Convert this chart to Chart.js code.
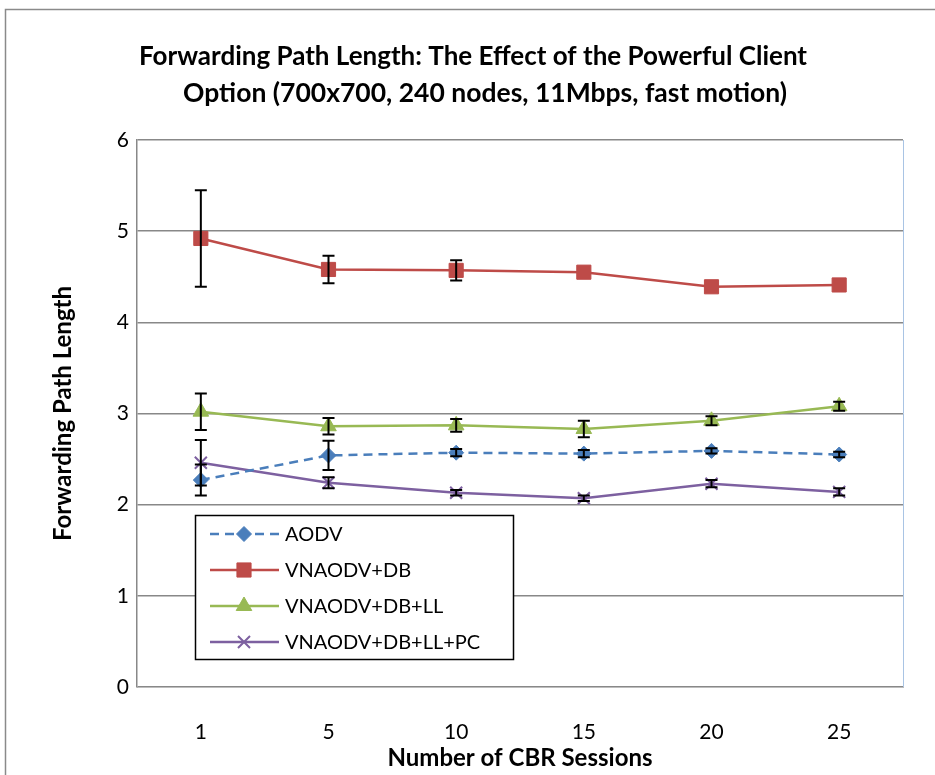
<!DOCTYPE html>
<html>
<head>
<meta charset="utf-8">
<script src="https://cdn.jsdelivr.net/npm/chart.js@4/dist/chart.umd.min.js"></script>
<style>
  html, body { margin: 0; padding: 0; background: #fff; }
  #wrap { width: 935px; height: 775px; position: relative; }
</style>
</head>
<body>
<div id="wrap"><canvas id="c" width="935" height="775"></canvas></div>
<script>
// Number of CBR sessions
const sessions = ['1', '5', '10', '15', '20', '25'];

// Mean forwarding path length per protocol variant
const aodv       = [2.27, 2.54, 2.57, 2.56, 2.59, 2.55];
const vnDb       = [4.92, 4.58, 4.57, 4.55, 4.39, 4.41];
const vnDbLl     = [3.02, 2.86, 2.87, 2.83, 2.92, 3.08];
const vnDbLlPc   = [2.46, 2.24, 2.13, 2.07, 2.23, 2.14];

// Half-width of the confidence interval at each point (0 = hidden by the marker)
const aodvErr     = [0.17, 0.16, 0.04, 0.04, 0.03, 0.03];
const vnDbErr     = [0.53, 0.15, 0.11, 0, 0, 0];
const vnDbLlErr   = [0.20, 0.09, 0.07, 0.09, 0.05, 0.05];
const vnDbLlPcErr = [0.25, 0.06, 0.03, 0.03, 0.04, 0.04];

const yTicks = [0, 1, 2, 3, 4, 5, 6];

const titleLines = [
  'Forwarding Path Length: The Effect of the Powerful Client',
  'Option (700x700, 240 nodes, 11Mbps, fast motion)'
];

const FONT = 'Lato, "Open Sans", "DejaVu Sans", sans-serif';

const series = [
  { label: 'AODV', data: aodv, err: aodvErr, color: '#4a7ebb', style: 'rectRot', radius: 7.5, dash: [9, 6] },
  { label: 'VNAODV+DB', data: vnDb, err: vnDbErr, color: '#be4b48', style: 'rect', radius: 10, dash: [] },
  { label: 'VNAODV+DB+LL', data: vnDbLl, err: vnDbLlErr, color: '#98b954', style: 'triangle', radius: 9, dash: [] },
  { label: 'VNAODV+DB+LL+PC', data: vnDbLlPc, err: vnDbLlPcErr, color: '#7d60a0', style: 'crossRot', radius: 8.5, dash: [] }
];

// Outer frame, chart title and right plot edge
const framePlugin = {
  id: 'frame',
  beforeDraw(chart) {
    const ctx = chart.ctx;
    ctx.save();
    ctx.fillStyle = '#fff';
    ctx.fillRect(0, 0, chart.width, chart.height);
    ctx.strokeStyle = '#8a8a8a';
    ctx.lineWidth = 1.5;
    ctx.strokeRect(5.5, 9.5, chart.width + 10, chart.height + 10);
    ctx.restore();
  },
  afterDraw(chart) {
    const ctx = chart.ctx;
    const a = chart.chartArea;
    ctx.save();
    ctx.strokeStyle = '#a9c4e4';
    ctx.lineWidth = 1;
    ctx.beginPath();
    ctx.moveTo(a.right + 0.5, a.top);
    ctx.lineTo(a.right + 0.5, a.bottom);
    ctx.stroke();
    ctx.fillStyle = '#000';
    ctx.font = 'bold 26px ' + FONT;
    ctx.textAlign = 'center';
    ctx.textBaseline = 'middle';
    ctx.fillText(titleLines[0], 473, 57);
    ctx.font = 'bold 26.5px ' + FONT;
    ctx.fillText(titleLines[1], 485, 93);
    ctx.restore();
  }
};

// Vertical error bars with caps, read through the chart's own scales
const errorBarPlugin = {
  id: 'errorBars',
  afterDatasetsDraw(chart) {
    const ctx = chart.ctx;
    const ys = chart.scales.y;
    ctx.save();
    ctx.strokeStyle = '#000';
    ctx.lineWidth = 2;
    chart.data.datasets.forEach((ds, di) => {
      const meta = chart.getDatasetMeta(di);
      meta.data.forEach((pt, i) => {
        const e = ds.errors[i];
        if (!e) return;
        const yTop = ys.getPixelForValue(ds.data[i] + e);
        const yBot = ys.getPixelForValue(ds.data[i] - e);
        const x = pt.x;
        ctx.beginPath();
        ctx.moveTo(x, yTop); ctx.lineTo(x, yBot);
        ctx.moveTo(x - 6, yTop); ctx.lineTo(x + 6, yTop);
        ctx.moveTo(x - 6, yBot); ctx.lineTo(x + 6, yBot);
        ctx.stroke();
      });
    });
    ctx.restore();
  }
};

// Boxed legend sitting inside the plot area
const boxLegendPlugin = {
  id: 'boxLegend',
  afterDraw(chart) {
    const ctx = chart.ctx;
    const left = 195, top = 515, width = 318, height = 144;
    ctx.save();
    ctx.fillStyle = '#fff';
    ctx.fillRect(left, top, width, height);
    ctx.strokeStyle = '#000';
    ctx.lineWidth = 1.5;
    ctx.strokeRect(left + 0.5, top + 0.5, width, height);
    ctx.font = '20px ' + FONT;
    ctx.textBaseline = 'middle';
    ctx.textAlign = 'left';
    chart.data.datasets.forEach((ds, i) => {
      const y = top + 19 + i * 36;
      ctx.strokeStyle = ds.borderColor;
      ctx.lineWidth = 2.5;
      ctx.setLineDash(ds.borderDash || []);
      ctx.beginPath();
      ctx.moveTo(left + 15, y); ctx.lineTo(left + 84, y);
      ctx.stroke();
      ctx.setLineDash([]);
      ctx.fillStyle = ds.borderColor;
      ctx.lineWidth = ds.pointBorderWidth;
      Chart.helpers.drawPoint(ctx, {
        pointStyle: ds.pointStyle,
        radius: ds.pointRadius,
        borderWidth: ds.pointBorderWidth,
        rotation: 0
      }, left + 49, y);
      ctx.fillStyle = '#000';
      ctx.fillText(ds.label, left + 90, y + 1);
    });
    ctx.restore();
  }
};

new Chart(document.getElementById('c'), {
  type: 'line',
  data: {
    labels: sessions,
    datasets: series.map(s => ({
      label: s.label,
      data: s.data,
      errors: s.err,
      borderColor: s.color,
      backgroundColor: s.color,
      pointBackgroundColor: s.color,
      pointBorderColor: s.color,
      pointStyle: s.style,
      pointRadius: s.radius,
      pointBorderWidth: s.style === 'crossRot' ? 2 : 1,
      borderWidth: 2.5,
      borderDash: s.dash,
      tension: 0,
      fill: false
    }))
  },
  options: {
    responsive: false,
    animation: false,
    layout: { padding: { top: 140, right: 32, left: 0, bottom: 0 } },
    plugins: {
      legend: { display: false },
      title: { display: false },
      tooltip: { enabled: false }
    },
    scales: {
      x: {
        type: 'category',
        offset: true,
        grid: { display: false, drawTicks: false },
        border: { display: true, color: '#bdbdbd', width: 1 },
        ticks: { color: '#000', font: { family: FONT, size: 21 }, padding: 33 },
        title: {
          display: true,
          text: 'Number of CBR Sessions',
          color: '#000',
          font: { family: FONT, size: 24, weight: 'bold' },
          padding: { top: 0, bottom: 2 }
        },
        afterFit(scale) { scale.height = 88; }
      },
      y: {
        min: 0,
        max: 6,
        afterBuildTicks(scale) { scale.ticks = yTicks.map(v => ({ value: v })); },
        grid: { color: '#888', lineWidth: 1.5, drawTicks: false },
        border: { display: true, color: '#888', width: 1.5 },
        ticks: { color: '#000', font: { family: FONT, size: 21 }, padding: 8 },
        title: {
          display: true,
          text: 'Forwarding Path Length',
          color: '#000',
          font: { family: FONT, size: 24, weight: 'bold' },
          padding: { top: 49, bottom: 0 }
        },
        afterFit(scale) { scale.width = 137; }
      }
    }
  },
  plugins: [framePlugin, errorBarPlugin, boxLegendPlugin]
});
</script>
</body>
</html>
